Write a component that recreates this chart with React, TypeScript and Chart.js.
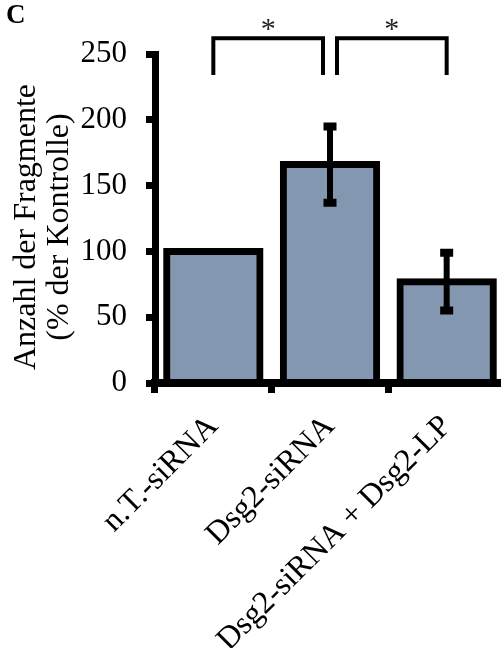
import React, { useEffect, useRef } from 'react';
import { Chart, registerables } from 'chart.js';

Chart.register(...registerables);

// Fragment counts per treatment, as % of control, with error margins
const categories = ['n.T.-siRNA', 'Dsg2-siRNA', 'Dsg2-siRNA + Dsg2-LP'];
const fragmentPercent = [100, 166, 77];
const fragmentError = [0, 29, 22];
const yTicks = [0, 50, 100, 150, 200, 250];
const yTitleLines = ['Anzahl der Fragmente', '(% der Kontrolle)'];
// Significance brackets between category pairs
const comparisonPairs = [
  [0, 1],
  [1, 2],
];
const comparisonMarks = ['*', '*'];
const panelLabel = 'C';

const SERIF = '"Liberation Serif", "Times New Roman", serif';
const BAR_FILL = 'rgb(132, 151, 176)';
const INK = '#000';

const errorBarPlugin = {
  id: 'errorBars',
  afterDatasetsDraw(chart: any) {
    const { ctx } = chart;
    const y = chart.scales.y;
    const meta = chart.getDatasetMeta(0);
    ctx.save();
    ctx.strokeStyle = INK;
    meta.data.forEach((bar: any, i: number) => {
      const err = fragmentError[i];
      if (!err) return;
      const v = fragmentPercent[i];
      const x = bar.x;
      const yTop = y.getPixelForValue(v + err);
      const yBot = y.getPixelForValue(v - err);
      ctx.lineWidth = 6;
      ctx.lineCap = 'butt';
      ctx.beginPath();
      ctx.moveTo(x, yTop);
      ctx.lineTo(x, yBot);
      ctx.stroke();
      ctx.lineWidth = 8;
      ctx.beginPath();
      ctx.moveTo(x - 6.5, yTop);
      ctx.lineTo(x + 6.5, yTop);
      ctx.moveTo(x - 6.5, yBot);
      ctx.lineTo(x + 6.5, yBot);
      ctx.stroke();
    });
    ctx.restore();
  },
};

const decorationsPlugin = {
  id: 'decorations',
  afterDraw(chart: any) {
    const { ctx } = chart;
    const xs = chart.scales.x;
    const ys = chart.scales.y;
    ctx.save();

    // significance brackets with their marks
    const topY = ys.getPixelForValue(262);
    const legY = ys.getPixelForValue(234);
    const gap = 7;
    ctx.strokeStyle = INK;
    ctx.lineWidth = 4;
    ctx.lineJoin = 'miter';
    comparisonPairs.forEach(([a, b], i) => {
      const x1 = xs.getPixelForValue(a) + (i > 0 ? gap : 0);
      const x2 = xs.getPixelForValue(b) - (i < comparisonPairs.length - 1 ? gap : 0);
      ctx.beginPath();
      ctx.moveTo(x1, legY);
      ctx.lineTo(x1, topY);
      ctx.lineTo(x2, topY);
      ctx.lineTo(x2, legY);
      ctx.stroke();
      ctx.fillStyle = '#222';
      ctx.font = `30px ${SERIF}`;
      ctx.textAlign = 'center';
      ctx.textBaseline = 'alphabetic';
      ctx.fillText(comparisonMarks[i], (x1 + x2) / 2, 38);
    });

    // y axis title, two rotated lines
    ctx.fillStyle = INK;
    ctx.font = `32px ${SERIF}`;
    ctx.textAlign = 'center';
    ctx.textBaseline = 'alphabetic';
    const baselines = [35, 68];
    yTitleLines.forEach((line, i) => {
      ctx.save();
      ctx.translate(baselines[i], 227);
      ctx.rotate(-Math.PI / 2);
      ctx.fillText(line, 0, 0);
      ctx.restore();
    });

    // panel letter
    ctx.font = `bold 27px ${SERIF}`;
    ctx.textAlign = 'left';
    ctx.fillText(panelLabel, 6, 23);
    ctx.restore();
  },
};

export default function App() {
  const canvasRef = useRef<HTMLCanvasElement | null>(null);

  useEffect(() => {
    const canvas = canvasRef.current;
    if (!canvas) return;
    const chart = new Chart(canvas, {
      type: 'bar',
      data: {
        labels: categories,
        datasets: [
          {
            data: fragmentPercent,
            backgroundColor: BAR_FILL,
            borderColor: INK,
            borderWidth: 7,
            inflateAmount: 3.5,
            borderSkipped: 'start',
            categoryPercentage: 1,
            barPercentage: 0.8,
          } as any,
        ],
      },
      options: {
        responsive: false,
        animation: false,
        events: [],
        layout: { padding: { top: 54, right: 15, left: 0, bottom: 0 } },
        plugins: {
          legend: { display: false },
          tooltip: { enabled: false },
          title: { display: false },
        },
        scales: {
          x: {
            afterFit: (scale: any) => {
              scale.height = 265;
            },
            grid: {
              display: true,
              offset: true,
              drawOnChartArea: false,
              drawTicks: true,
              tickLength: 10,
              tickWidth: 7,
              tickColor: INK,
            },
            border: { display: true, color: INK, width: 8, z: 1 },
            ticks: {
              autoSkip: false,
              maxRotation: 45,
              minRotation: 45,
              color: INK,
              padding: 15,
              font: { family: SERIF, size: 32 },
            },
          },
          y: {
            min: yTicks[0],
            max: yTicks[yTicks.length - 1],
            afterFit: (scale: any) => {
              scale.width = 155;
            },
            grid: {
              display: true,
              drawOnChartArea: false,
              drawTicks: true,
              tickLength: 9,
              tickWidth: 7,
              tickColor: INK,
            },
            border: { display: true, color: INK, width: 7, z: 1 },
            ticks: {
              stepSize: yTicks[1] - yTicks[0],
              color: INK,
              padding: 19,
              font: { family: SERIF, size: 31 },
            },
          },
        },
      } as any,
      plugins: [errorBarPlugin, decorationsPlugin],
    });
    return () => chart.destroy();
  }, []);

  return (
    <div
      style={{
        position: 'fixed',
        left: 0,
        top: 0,
        width: 501,
        height: 648,
        overflow: 'hidden',
        background: '#fff',
      }}
    >
      <canvas ref={canvasRef} width={520} height={648} style={{ display: 'block' }} />
    </div>
  );
}
